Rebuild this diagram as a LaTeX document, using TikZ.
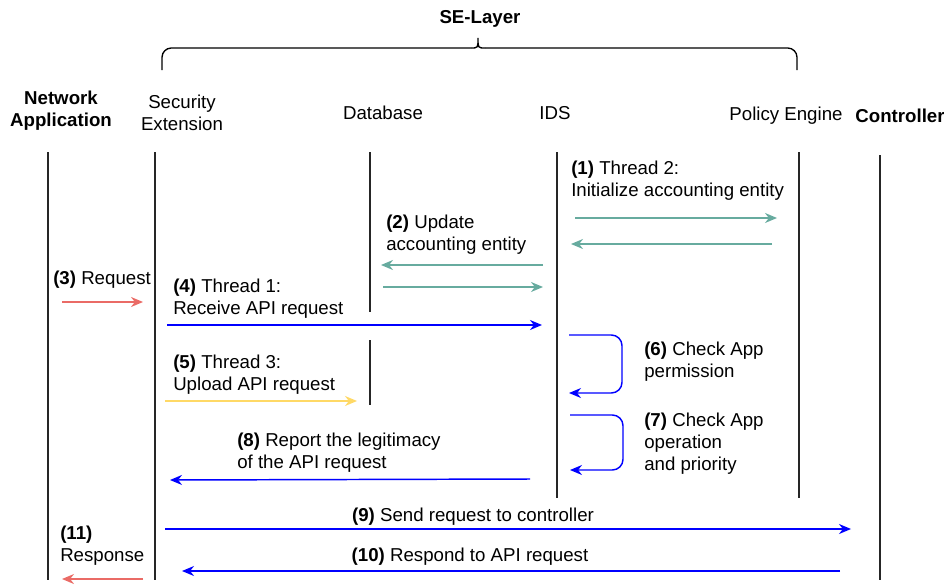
\documentclass[tikz,border=0pt]{standalone}
\usepackage{fontspec}
\setmainfont{Liberation Sans}
\usetikzlibrary{arrows.meta}
\definecolor{sdteal}{HTML}{67AB9F}
\definecolor{sdred}{HTML}{EA6B66}
\definecolor{sdyellow}{HTML}{FFD966}
\definecolor{sdblue}{HTML}{0000FF}

\begin{document}
\begin{tikzpicture}[x=0.75pt, y=-0.75pt,
  every node/.style={inner sep=0pt, font=\fontsize{14}{16.5}\selectfont},
  head/.style={align=center},
  lbl/.style={align=left, anchor=west},
  life/.style={line width=1pt, black!85},
  msg/.style={line width=1.1pt, -{Stealth[length=9pt, width=7.5pt]}},
  loopmsg/.style={msg, sdblue, rounded corners=8pt}
]
\useasboundingbox (0,0) rectangle (944,585);

% headers
\node[head] (sel) at (480,19) {\textbf{SE-Layer}};
\node[head] (na) at (61,111) {\textbf{Network}\\\textbf{Application}};
\node[head] (se) at (182,113) {Security\\Extension};
\node[head] (db) at (383,113) {Database};
\node[head] (ids) at (555,113) {IDS};
\node[head] (pe) at (786,116) {Policy Engine};
\node[head] (ctl) at (900,116) {\textbf{Controller}};

% brace over the SE-Layer
\draw[line width=1pt, rounded corners=7pt] (162,70) |- (471,48);
\draw[line width=1pt] (471,48) .. controls (478,48) .. (478,38)
  .. controls (478,48) .. (485,48);
\draw[line width=1pt, rounded corners=7pt] (485,48) -| (797,70);

% lifelines
\foreach \x/\ya/\yb in {48/152/580, 155/152/580, 370/152/312, 370/340/405,
                        557/152/498, 799/152/498, 880/155/580}
  \draw[life] (\x,\ya) -- (\x,\yb);

% messages
\coordinate (m1a) at (575,218); \coordinate (m1b) at (777,218);
\coordinate (m1c) at (772,244); \coordinate (m1d) at (571,244);
\coordinate (m2a) at (543,265); \coordinate (m2b) at (381,265);
\coordinate (m2c) at (383,287); \coordinate (m2d) at (543,287);
\coordinate (m3a) at (62,302);  \coordinate (m3b) at (143,302);
\coordinate (m4a) at (167,325); \coordinate (m4b) at (542,325);
\coordinate (m5a) at (165,401); \coordinate (m5b) at (357,401);
\coordinate (m6a) at (569,335); \coordinate (m6b) at (569,393);
\coordinate (m7a) at (570,415); \coordinate (m7b) at (570,470);
\coordinate (m8a) at (530,479); \coordinate (m8b) at (170,480);
\coordinate (m9a) at (165,529); \coordinate (m9b) at (851,529);
\coordinate (m10a) at (840,571); \coordinate (m10b) at (182,571);
\coordinate (m11a) at (143,579); \coordinate (m11b) at (62,579);

\draw[msg, sdteal] (m1a) -- (m1b);
\draw[msg, sdteal] (m1c) -- (m1d);
\draw[msg, sdteal] (m2a) -- (m2b);
\draw[msg, sdteal] (m2c) -- (m2d);
\draw[msg, sdred] (m3a) -- (m3b);
\draw[msg, sdblue] (m4a) -- (m4b);
\draw[msg, sdyellow] (m5a) -- (m5b);
\draw[loopmsg] (m6a) -- ++(53,0) |- (m6b);
\draw[loopmsg] (m7a) -- ++(53,0) |- (m7b);
\draw[msg, sdblue] (m8a) -- (m8b);
\draw[msg, sdblue] (m9a) -- (m9b);
\draw[msg, sdblue] (m10a) -- (m10b);
\draw[msg, sdred] (m11a) -- (m11b);

% labels
\node[lbl] (t1) at (571,181) {\textbf{(1)} Thread 2:\\Initialize accounting entity};
\node[lbl] (t2) at (386,235) {\textbf{(2)} Update\\accounting entity};
\node[lbl] (t3) at (53,280) {\textbf{(3)} Request};
\node[lbl] (t4) at (173,299) {\textbf{(4)} Thread 1:\\Receive API request};
\node[lbl] (t5) at (173,375) {\textbf{(5)} Thread 3:\\Upload API request};
\node[lbl] (t6) at (644,362) {\textbf{(6)} Check App\\permission};
\node[lbl] (t7) at (644,444) {\textbf{(7)} Check App\\operation\\and priority};
\node[lbl] (t8) at (237,453) {\textbf{(8)} Report the legitimacy\\of the API request};
\node[head] (t9) at (473,517) {\textbf{(9)} Send request to controller};
\node[head] (t10) at (470,557) {\textbf{(10)} Respond to API request};
\node[lbl] (t11) at (60,546) {\textbf{(11)}\\Response};
\end{tikzpicture}
\end{document}
